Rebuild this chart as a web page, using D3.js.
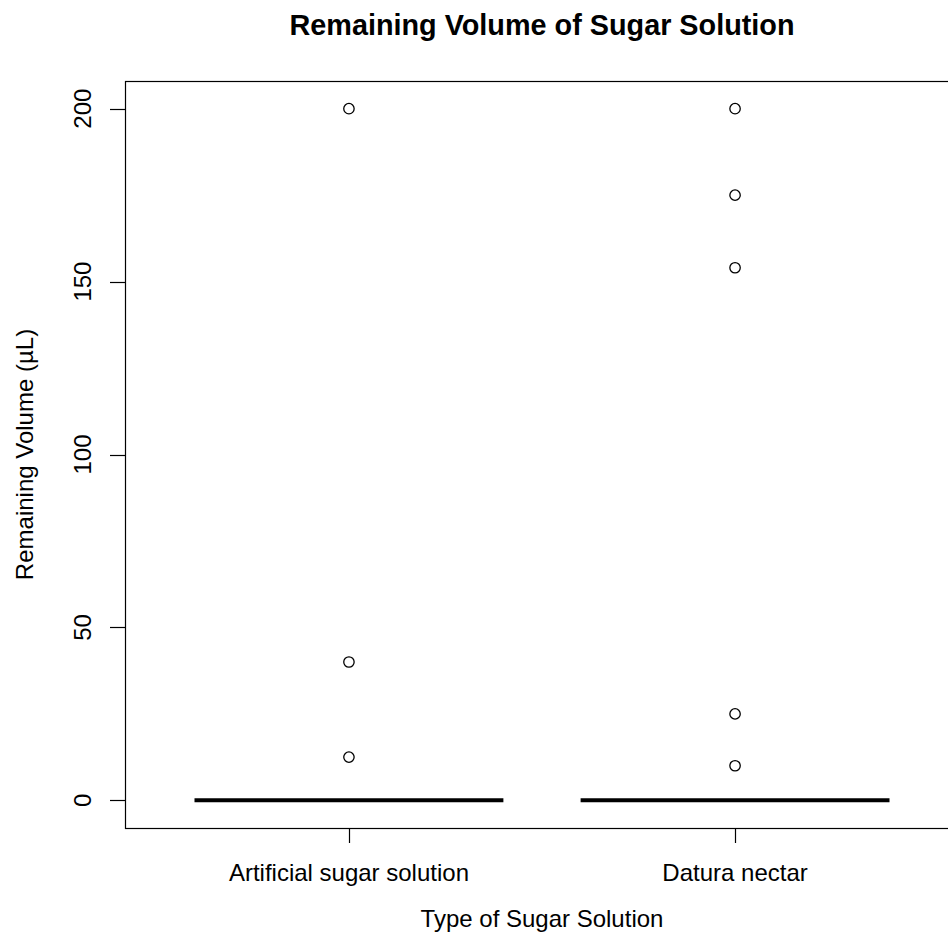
<!DOCTYPE html>
<html>
<head>
<meta charset="utf-8">
<script src="https://cdn.jsdelivr.net/npm/d3@7"></script>
<style>
  body { margin: 0; background: #fff; }
  svg { display: block; font-family: "Liberation Sans", Arial, sans-serif; }
</style>
</head>
<body>
<div id="chart"></div>
<script>
// === DATA ===
const categories = ["Artificial sugar solution", "Datura nectar"];
const medians = [0, 0];
const outliers = [
    [200, 40, 12.5],
    [200, 175, 154, 25, 10]
];
const yTicks = [0, 50, 100, 150, 200];

// === LAYOUT ===
const W = 948, H = 945;
const plotLeft = 125, plotRight = 959, plotTop = 81, plotBottom = 828;
const baseFont = 24;

const svg = d3.select("#chart").append("svg")
    .attr("width", W)
    .attr("height", H);

// R style: x from 0.5 to n+0.5, padded by 4%
const x = d3.scaleLinear().domain([0.42, 2.58]).range([plotLeft, plotRight]);
const y = d3.scaleLinear().domain([-8, 208]).range([plotBottom, plotTop]);

// plot box
svg.append("rect")
    .attr("x", plotLeft + 0.5)
    .attr("y", plotTop + 0.5)
    .attr("width", plotRight - plotLeft)
    .attr("height", plotBottom - plotTop)
    .attr("fill", "none")
    .attr("stroke", "#000")
    .attr("stroke-width", 1.2);

// y axis (ticks left, labels rotated)
const yAxis = svg.append("g");
yAxis.selectAll("line")
    .data(yTicks)
    .join("line")
    .attr("x1", plotLeft - 15)
    .attr("x2", plotLeft)
    .attr("y1", d => Math.round(y(d)) + 0.5)
    .attr("y2", d => Math.round(y(d)) + 0.5)
    .attr("stroke", "#000")
    .attr("stroke-width", 1.2);
yAxis.selectAll("text")
    .data(yTicks)
    .join("text")
    .attr("transform", d => `translate(91,${y(d)}) rotate(-90)`)
    .attr("text-anchor", "middle")
    .attr("font-size", baseFont + "px")
    .text(d => d);

// x axis ticks + labels
const xAxis = svg.append("g");
xAxis.selectAll("line")
    .data(categories)
    .join("line")
    .attr("x1", (d, i) => Math.round(x(i + 1)) + 0.5)
    .attr("x2", (d, i) => Math.round(x(i + 1)) + 0.5)
    .attr("y1", plotBottom)
    .attr("y2", plotBottom + 15)
    .attr("stroke", "#000")
    .attr("stroke-width", 1.2);
xAxis.selectAll("text")
    .data(categories)
    .join("text")
    .attr("x", (d, i) => x(i + 1))
    .attr("y", 881)
    .attr("text-anchor", "middle")
    .attr("font-size", baseFont + "px")
    .text(d => d);

// median lines (boxes collapsed to zero)
svg.selectAll(".median")
    .data(medians)
    .join("line")
    .attr("class", "median")
    .attr("x1", (d, i) => x(i + 1 - 0.4))
    .attr("x2", (d, i) => x(i + 1 + 0.4))
    .attr("y1", d => y(d))
    .attr("y2", d => y(d))
    .attr("stroke", "#000")
    .attr("stroke-width", 4);

// outlier points
outliers.forEach((vals, i) => {
    svg.selectAll(".pt" + i)
        .data(vals)
        .join("circle")
        .attr("class", "pt" + i)
        .attr("cx", x(i + 1))
        .attr("cy", d => y(d))
        .attr("r", 5.2)
        .attr("fill", "none")
        .attr("stroke", "#000")
        .attr("stroke-width", 1.3);
});

// titles
svg.append("text")
    .attr("x", (plotLeft + plotRight) / 2)
    .attr("y", 35)
    .attr("text-anchor", "middle")
    .attr("font-size", (baseFont * 1.2) + "px")
    .attr("font-weight", "bold")
    .text("Remaining Volume of Sugar Solution");

svg.append("text")
    .attr("x", (plotLeft + plotRight) / 2)
    .attr("y", 927)
    .attr("text-anchor", "middle")
    .attr("font-size", baseFont + "px")
    .text("Type of Sugar Solution");

svg.append("text")
    .attr("transform", `translate(33,${(plotTop + plotBottom) / 2}) rotate(-90)`)
    .attr("text-anchor", "middle")
    .attr("font-size", baseFont + "px")
    .text("Remaining Volume (µL)");
</script>
</body>
</html>
